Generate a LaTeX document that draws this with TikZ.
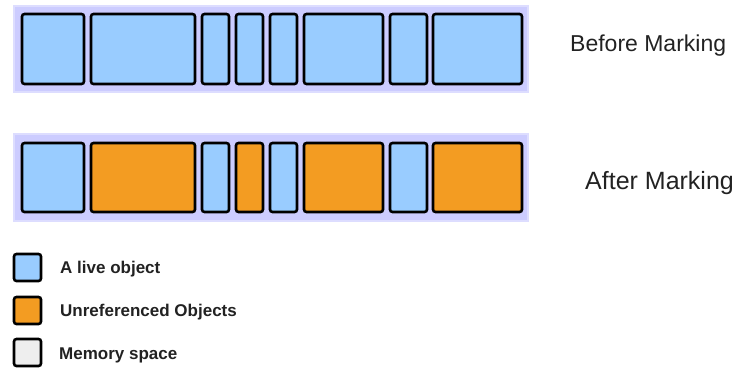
\documentclass[tikz,border=0pt]{standalone}
\usepackage{fontspec}
\setmainfont{Liberation Sans}
\definecolor{liveblue}{HTML}{99CCFF}
\definecolor{deadorange}{HTML}{F39C22}
\definecolor{band}{HTML}{CCCCFF}
\definecolor{bandedge}{HTML}{DDDDFF}
\definecolor{memgray}{HTML}{EEEEEE}
\definecolor{txt}{HTML}{222222}
\begin{document}
\begin{tikzpicture}[x=1pt,y=-1pt,
  heap/.style={fill=band,draw=bandedge,line width=2pt},
  obj/.style={draw=black,line width=2.6pt,rounded corners=2.5pt},
  live/.style={obj,fill=liveblue},
  dead/.style={obj,fill=deadorange},
  mem/.style={obj,fill=memgray},
  title/.style={anchor=west,text=txt,inner sep=0pt},
  legtext/.style={anchor=west,font=\bfseries\fontsize{17}{20}\selectfont,text=txt,inner sep=0pt}]
\useasboundingbox (0,0) rectangle (747,368);
% before marking
\path[heap] (14,6) rectangle (528,92);
\draw[live] (22,14) rectangle (84,84);
\draw[live] (91,14) rectangle (195,84);
\draw[live] (202,14) rectangle (229,84);
\draw[live] (236,14) rectangle (263,84);
\draw[live] (270,14) rectangle (297,84);
\draw[live] (304,14) rectangle (383,84);
\draw[live] (390,14) rectangle (427,84);
\draw[live] (433,14) rectangle (522,84);
\node[title,font=\fontsize{23}{26}\selectfont] (before) at (570,46) {Before Marking};
% after marking
\path[heap] (14,134) rectangle (528,221);
\draw[live] (22,143) rectangle (84,212);
\draw[dead] (91,143) rectangle (195,212);
\draw[live] (202,143) rectangle (229,212);
\draw[dead] (236,143) rectangle (263,212);
\draw[live] (270,143) rectangle (297,212);
\draw[dead] (304,143) rectangle (383,212);
\draw[live] (390,143) rectangle (427,212);
\draw[dead] (433,143) rectangle (522,212);
\node[title,font=\fontsize{25}{28}\selectfont] (after) at (585,183) {After Marking};
% legend
\draw[live] (14,254) rectangle (41,281);
\node[legtext] (l1) at (60,269) {A live object};
\draw[dead] (14,297) rectangle (41,324);
\node[legtext] (l2) at (60,312) {Unreferenced Objects};
\draw[mem] (14,339) rectangle (41,366);
\node[legtext] (l3) at (59,355) {Memory space};
\end{tikzpicture}
\end{document}
